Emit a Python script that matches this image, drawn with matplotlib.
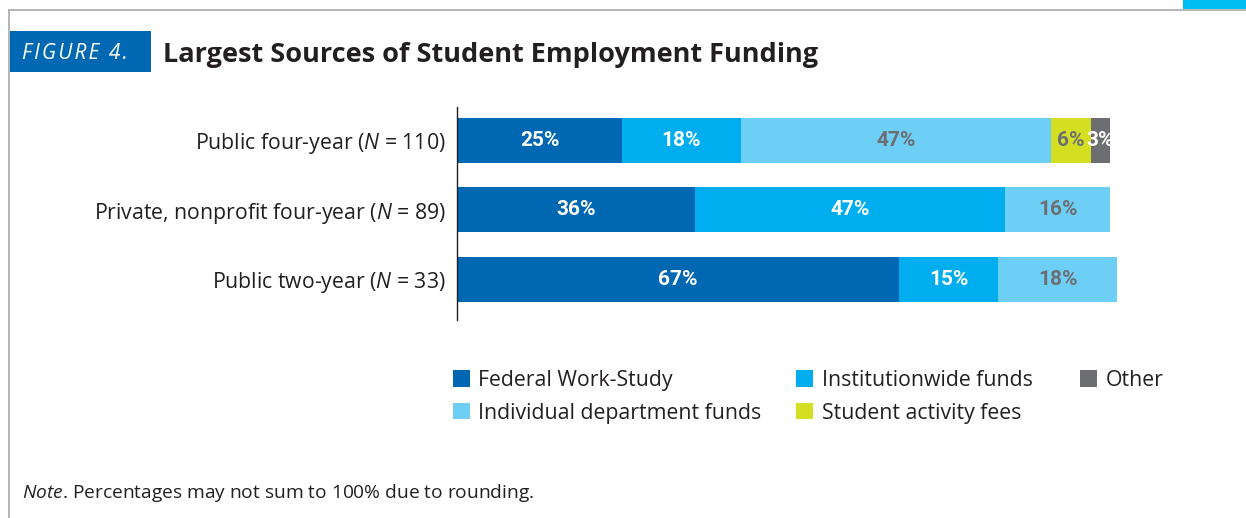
import matplotlib
matplotlib.use('Agg')
import matplotlib.pyplot as plt
from matplotlib.patches import Rectangle, Patch
import numpy as np

plt.rcParams['font.family'] = ['Open Sans', 'DejaVu Sans']
plt.rcParams['mathtext.fontset'] = 'custom'
plt.rcParams['mathtext.rm'] = 'Open Sans'
plt.rcParams['mathtext.it'] = 'Open Sans:italic'

# data
categories = ['Public four-year ($\\it{N}$ = 110)',
              'Private, nonprofit four-year ($\\it{N}$ = 89)',
              'Public two-year ($\\it{N}$ = 33)']
series_names = ['Federal Work-Study', 'Institutionwide funds',
                'Individual department funds', 'Student activity fees', 'Other']
federal = [25, 36, 67]
institution = [18, 47, 15]
department = [47, 16, 18]
activity = [6, 0, 0]
other = [3, 0, 0]

colors = ['#0068B3', '#00AEEF', '#6DCFF6', '#D5DF22', '#6D6E71']
label_colors = ['white', 'white', '#6D6E71', '#6D6E71', 'white']
text_dark = '#231F20'

W, H = 1246, 518
fig = plt.figure(figsize=(W / 100, H / 100), dpi=100)

# frame lines and corner tab
fig.add_artist(plt.Line2D([9 / W, 1], [1 - 10 / H, 1 - 10 / H], color='#A7A9AC', lw=1.2))
fig.add_artist(plt.Line2D([9 / W, 9 / W], [0, 1 - 10 / H], color='#A7A9AC', lw=1.2))
fig.add_artist(Rectangle((1183 / W, 1 - 9 / H), 63 / W, 9 / H, color='#00BFF3', lw=0))

# figure tag + title
fig.add_artist(Rectangle((10 / W, 1 - 72 / H), 141 / W, 41 / H, color='#0068B3', lw=0))
fig.text(22 / W, 1 - 59 / H, '\u200a'.join('FIGURE 4.'), color='white', fontsize=15,
         style='italic', va='baseline', ha='left')
fig.text(163 / W, 1 - 62 / H, 'Largest Sources of Student Employment Funding',
         color=text_dark, fontsize=19.5, weight='bold', va='baseline', ha='left')

ax = fig.add_axes([457 / W, 1 - 320 / H, 660 / W, 213 / H])
y = np.arange(len(categories))
series = [federal, institution, department, activity, other]
left = np.zeros(len(categories))
for vals, name, c, lc in zip(series, series_names, colors, label_colors):
    vals = np.array(vals, dtype=float)
    bars = ax.barh(y, vals, left=left, height=0.65, color=c, label=name, lw=0)
    for b, v, l in zip(bars, vals, left):
        if v > 0:
            t = ax.text(l + v / 2, b.get_y() + b.get_height() / 2, f'{int(v)}%',
                        ha='center', va='center', color=lc, fontsize=15,
                        family=['Roboto', 'DejaVu Sans'], weight='bold')
            t.set_clip_path(b)
    left += vals

ax.set_xlim(0, 100)
ax.set_ylim(2.59, -0.48)
ax.set_yticks(y)
ax.set_yticklabels(categories, fontsize=15.3, color=text_dark)
ax.tick_params(axis='y', length=0, pad=8)
ax.set_xticks([])
for s in ['top', 'right', 'bottom']:
    ax.spines[s].set_visible(False)
ax.spines['left'].set_color('#231F20')
ax.spines['left'].set_linewidth(1)

# legend: one legend per column so each column sits where the reference has it
columns = [([0, 2], 436), ([1, 3], 779), ([4], 1063)]
for idx, xpos in columns:
    handles = [Patch(facecolor=colors[i], edgecolor='none') for i in idx]
    labels = [series_names[i] for i in idx]
    leg = fig.legend(handles, labels, loc='upper left',
                     bbox_to_anchor=(xpos / W, 1 - 353 / H), frameon=False,
                     fontsize=15.3, handlelength=0.8, handleheight=0.8,
                     handletextpad=0.4, labelspacing=0.55, labelcolor=text_dark,
                     borderpad=0.3)

fig.text(22 / W, 1 - 493 / H, '$\\it{Note}$. Percentages may not sum to 100% due to rounding.',
         fontsize=13.8, color=text_dark, va='center', ha='left')

fig.savefig('out.png', dpi=100)
